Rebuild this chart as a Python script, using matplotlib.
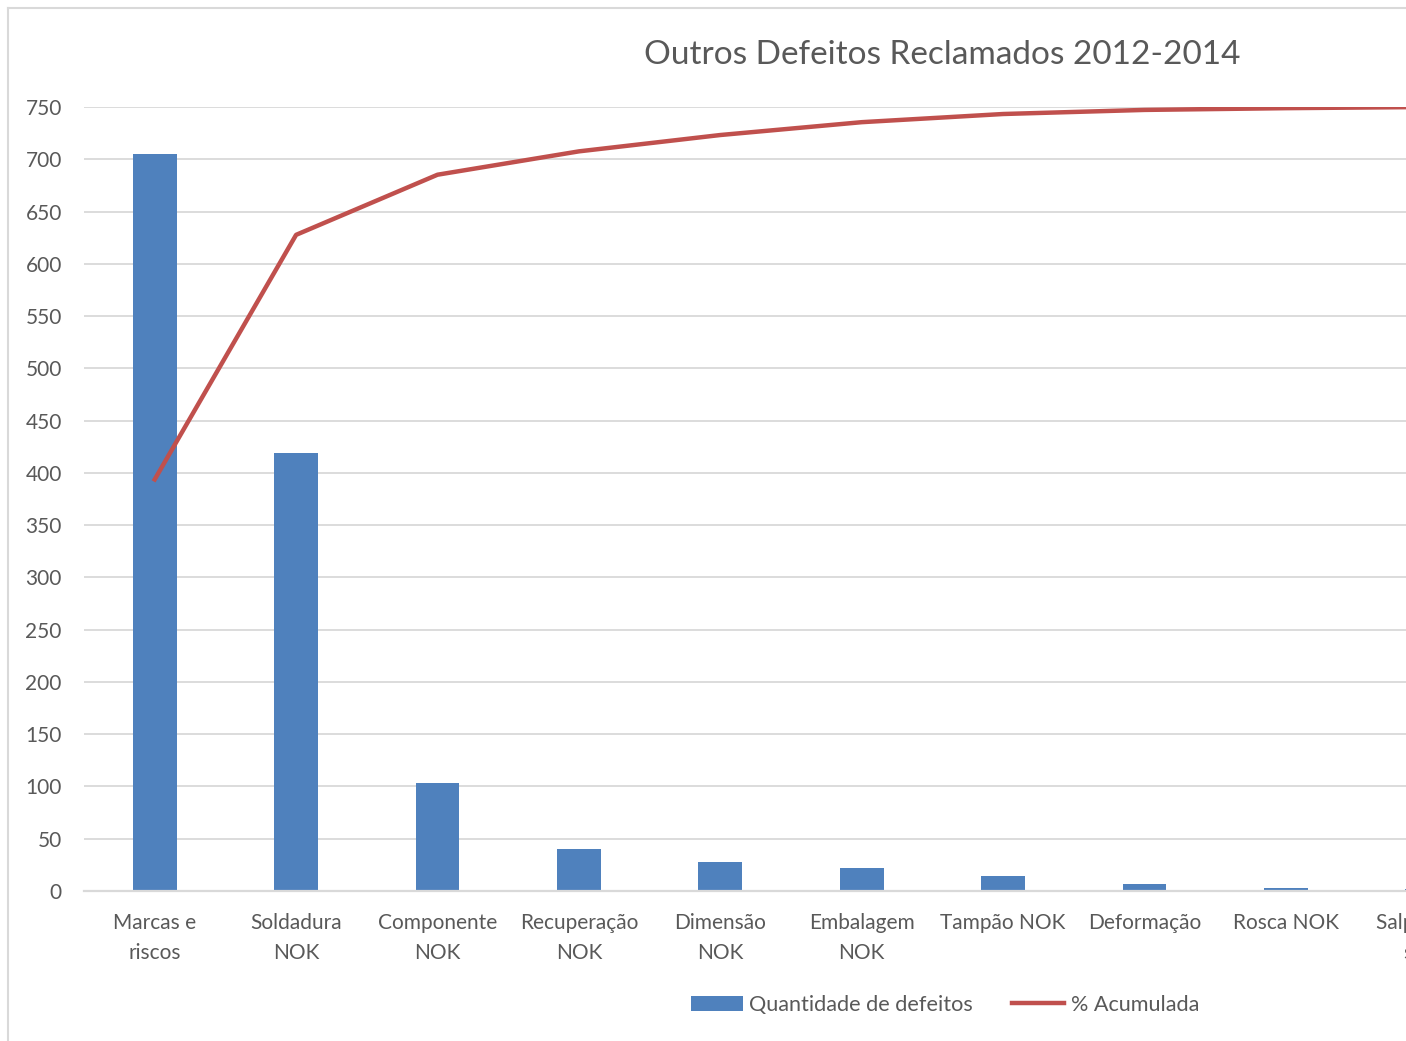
import numpy as np
import matplotlib
matplotlib.use("Agg")
import matplotlib.pyplot as plt
from matplotlib.patches import Patch
from matplotlib.lines import Line2D

plt.rcParams['font.family'] = ['Lato', 'DejaVu Sans']

# defect categories and how many of each were claimed
categories = ["Marcas e\nriscos", "Soldadura\nNOK", "Componente\nNOK", "Recuperação\nNOK",
              "Dimensão\nNOK", "Embalagem\nNOK", "Tampão NOK", "Deformação",
              "Rosca NOK", "Salpicos de\nsolda"]
quantities = [705, 419, 103, 40, 28, 22, 14, 7, 3, 2]
y_ticks = list(range(0, 751, 50))

blue = '#4F81BD'
red = '#C0504D'
grey_txt = '#595959'
grid_col = '#D9D9D9'

cum_pct = np.cumsum(quantities) / np.sum(quantities)

W, H = 1406, 1041
fig = plt.figure(figsize=(W / 100, H / 100), dpi=100)

# plot area runs past the right edge of the figure
ax = fig.add_axes([84 / W, 150 / H, 141.4 * len(categories) / W, 784 / H])
x = np.arange(len(categories))
ax.bar(x, quantities, width=0.31, color=blue, zorder=2)
ax.set_xlim(-0.5, len(categories) - 0.5)
ax.set_ylim(0, 750)
ax.set_yticks(y_ticks)
ax.set_xticks(x)
ax.set_xticklabels(categories, fontsize=15, color=grey_txt, linespacing=1.6)
ax.tick_params(axis='y', length=0, pad=16, labelsize=15, labelcolor=grey_txt)
ax.tick_params(axis='x', length=0, pad=16)
ax.grid(axis='y', color=grid_col, linewidth=1.3, zorder=0)
for s in ['top', 'right', 'left']:
    ax.spines[s].set_visible(False)
ax.spines['bottom'].set_color(grid_col)
ax.spines['bottom'].set_linewidth(1.6)

# cumulative percentage on a secondary 0-100% axis
ax2 = ax.twinx()
ax2.plot(x, cum_pct, color=red, linewidth=3.2, zorder=3)
ax2.set_ylim(0, 1)
ax2.axis('off')

fig.text(942 / W, 1 - 55 / H, "Outros Defeitos Reclamados 2012-2014",
         ha='center', va='center', fontsize=24, color=grey_txt)

handles = [Patch(facecolor=blue), Line2D([0], [0], color=red, linewidth=3.2)]
fig.legend(handles, ["Quantidade de defeitos", "% Acumulada"], loc='center',
           bbox_to_anchor=(945 / W, 1 - 1005 / H), ncol=2, frameon=False,
           fontsize=15.6, labelcolor=grey_txt, handlelength=2.4, handletextpad=0.3,
           columnspacing=1.8)

# chart border (left and top edges)
fig.add_artist(Line2D([8 / W, 8 / W], [0, 1 - 8 / H], color=grid_col, linewidth=1.5))
fig.add_artist(Line2D([8 / W, 1], [1 - 8 / H, 1 - 8 / H], color=grid_col, linewidth=1.5))

fig.savefig("out.png", dpi=100)
